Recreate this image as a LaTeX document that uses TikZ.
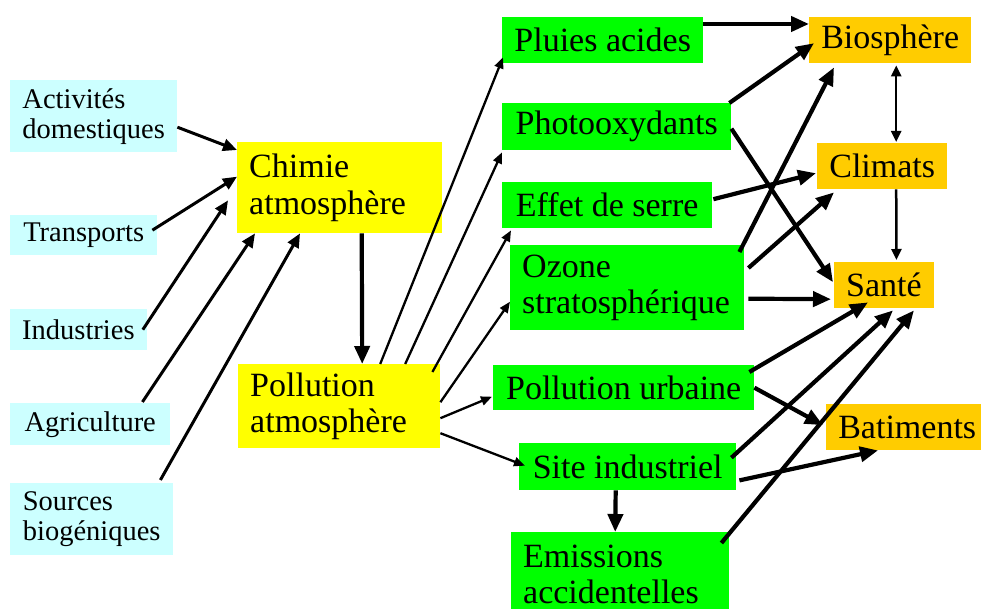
\documentclass[tikz,border=0pt]{standalone}
\usepackage{fontspec}
\setmainfont{Liberation Serif}
\usetikzlibrary{arrows.meta}

\definecolor{srccyan}{HTML}{CCFFFF}
\definecolor{chemyellow}{HTML}{FFFF00}
\definecolor{effgreen}{HTML}{00FF00}
\definecolor{impactorange}{HTML}{FFCC00}

\tikzset{
    boxbase/.style={anchor=north west, inner xsep=12pt, inner ysep=0pt, align=left, font=\fontsize{34}{36.5}\selectfont},
    source/.style={boxbase, fill=srccyan, font=\fontsize{28.5}{30}\selectfont},
    chem/.style={boxbase, fill=chemyellow},
    effect/.style={boxbase, fill=effgreen},
    impact/.style={boxbase, fill=impactorange},
    srcarrow/.style={line width=3pt, -{Triangle[length=14pt,width=12pt]}},
    fxarrow/.style={line width=2.3pt, -{Triangle[length=11pt,width=9pt]}},
    linkarrow/.style={line width=2.5pt, -{Triangle[length=11pt,width=10pt]}},
    bothways/.style={line width=2.5pt, {Triangle[length=11pt,width=10pt]}-{Triangle[length=11pt,width=10pt]}},
    bigarrow/.style={line width=4.2pt, -{Triangle[length=18pt,width=15pt]}},
}

\begin{document}
\begin{tikzpicture}[x=1pt, y=1pt]

        \clip (0,0) rectangle (981,609);

        %Sources
        \node[source, minimum width=167pt, minimum height=72pt] (act) at (10,529) {Activités\\domestiques};
        \node[source, minimum width=147pt, minimum height=40pt] (trans) at (10,394) {Transports};
        \node[source, minimum width=136pt, minimum height=41pt] (ind) at (10,300) {Industries};
        \node[source, minimum width=160pt, minimum height=42pt] (agri) at (10,206) {Agriculture};
        \node[source, minimum width=163pt, minimum height=72pt] (biog) at (10,126) {Sources\\biogéniques};

        %Atmosphere
        \node[chem, text width=181pt, minimum height=91pt] (chim) at (237,467) {Chimie\\atmosphère};
        \node[chem, text width=178pt, minimum height=84pt] (pollatm) at (238,245) {Pollution\\atmosphère};

        %Effects
        \node[effect, minimum width=201pt, minimum height=46pt] (pluies) at (502,592) {Pluies acides};
        \node[effect, minimum width=229pt, minimum height=47pt] (photo) at (502,506) {Photooxydants};
        \node[effect, minimum width=210pt, minimum height=46pt] (serre) at (502,427) {Effet de serre};
        \node[effect, text width=210pt, minimum height=85pt] (ozone) at (510,364) {Ozone\\stratosphérique};
        \node[effect, minimum width=261pt, minimum height=45pt] (urb) at (493,244) {Pollution urbaine};
        \node[effect, minimum width=217pt, minimum height=47pt] (site) at (519,166) {Site industriel};
        \node[effect, text width=194pt, minimum height=84pt] (emis) at (511,77) {Emissions\\accidentelles};

        %Impacts
        \node[impact, minimum width=162pt, minimum height=46pt] (biosph) at (809,592) {Biosphère};
        \node[impact, minimum width=130pt, minimum height=46pt] (clim) at (817,466) {Climats};
        \node[impact, minimum width=99pt, minimum height=46pt] (sante) at (834,347) {Santé};
        \node[impact, minimum width=162pt, minimum height=46pt] (bat) at (826,205) {Batiments};

        %Sources to chemistry
        \draw[srcarrow] ([yshift=-11pt]act.east) -- ([yshift=-8pt]chim.north west);
        \draw[srcarrow] ([xshift=-5pt,yshift=5pt]trans.east) -- ([yshift=11pt]chim.west);
        \draw[srcarrow] ([xshift=-4pt]ind.east) -- ([xshift=-9pt,yshift=33pt]chim.south west);
        \draw[srcarrow] ([xshift=-28pt,yshift=1pt]agri.north east) -- ([xshift=18pt]chim.south west);
        \draw[srcarrow] ([xshift=-13pt,yshift=3pt]biog.north east) -- ([xshift=63pt]chim.south west);
        \draw[bigarrow] ([xshift=22pt]chim.south) -- ([xshift=23pt]pollatm.north);

        %Pollution to effects
        \draw[fxarrow] ([xshift=41pt]pollatm.north) -- ([xshift=1pt,yshift=6pt]pluies.south west);
        \draw[fxarrow] ([xshift=66pt]pollatm.north) -- ([yshift=-2pt]photo.south west);
        \draw[fxarrow] ([xshift=-8pt,yshift=-8pt]pollatm.north east) -- ([xshift=9pt,yshift=-2pt]serre.south west);
        \draw[fxarrow] ([yshift=4pt]pollatm.east) -- ([yshift=-14pt]ozone.west);
        \draw[fxarrow] ([yshift=-12pt]pollatm.east) -- ([xshift=-1pt,yshift=-9pt]urb.west);
        \draw[fxarrow] ([yshift=-27pt]pollatm.east) -- ([xshift=6pt,yshift=1pt]site.west);

        %Effects to impacts
        \draw[bigarrow] ([yshift=-7pt]pluies.north east) -- ([yshift=-7pt]biosph.north west);
        \draw[bigarrow] ([xshift=-2pt]photo.north east) -- ([xshift=5pt,yshift=-3pt]biosph.west);
        \draw[bigarrow] ([yshift=-2pt]photo.east) -- ([xshift=-1pt,yshift=3pt]sante.west);
        \draw[bigarrow] ([xshift=1pt,yshift=6pt]serre.east) -- ([xshift=-1pt,yshift=-7pt]clim.west);
        \draw[bigarrow] ([xshift=-5pt,yshift=-7pt]ozone.north east) -- ([xshift=25pt,yshift=-4pt]biosph.south west);
        \draw[bigarrow] ([xshift=4pt,yshift=-23pt]ozone.north east) -- ([xshift=17pt,yshift=-3pt]clim.south west);
        \draw[bigarrow] ([xshift=4pt,yshift=-11pt]ozone.east) -- ([xshift=-3pt,yshift=-14pt]sante.west);
        \draw[bigarrow] ([xshift=-5pt,yshift=-7pt]urb.north east) -- ([xshift=34pt,yshift=6pt]sante.south west);
        \draw[bigarrow] (urb.east) -- ([xshift=-3pt,yshift=2pt]bat.west);
        \draw[bigarrow] ([xshift=-5pt,yshift=9pt]site.east) -- ([xshift=9pt,yshift=-2pt]sante.south);
        \draw[bigarrow] ([xshift=3pt,yshift=10pt]site.south east) -- ([xshift=52pt]bat.south west);
        \draw[bigarrow] ([xshift=-12pt]site.south) -- ([xshift=-5pt]emis.north);
        \draw[bigarrow] ([xshift=-8pt,yshift=-11pt]emis.north east) -- ([xshift=-20pt,yshift=-2pt]sante.south east);

        %Between impacts
        \draw[bothways] ([xshift=6pt,yshift=-2pt]biosph.south) -- ([xshift=14pt,yshift=1pt]clim.north);
        \draw[linkarrow] ([xshift=14pt]clim.south) -- ([xshift=12.5pt,yshift=2pt]sante.north);

\end{tikzpicture}
\end{document}
